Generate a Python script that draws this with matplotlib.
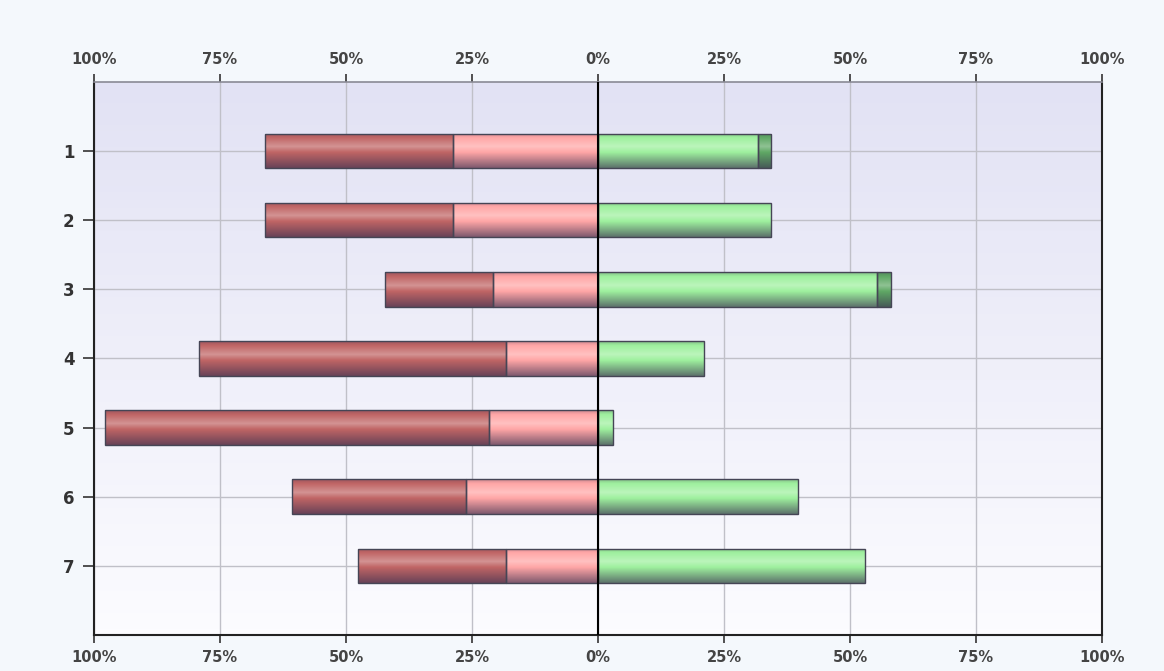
import numpy as np
import matplotlib
matplotlib.use('Agg')
from matplotlib import pyplot as plt
from matplotlib.colors import to_rgb
from matplotlib.patches import Rectangle

# per-row segment widths in percent
items = ['1', '2', '3', '4', '5', '6', '7']
strongly_disagree = [37.2, 37.2, 21.3, 60.9, 76.1, 34.6, 29.5]
disagree = [28.8, 28.8, 20.9, 18.2, 21.7, 26.1, 18.2]
agree = [31.7, 34.3, 55.4, 21.0, 2.9, 39.7, 52.9]
strongly_agree = [2.6, 0.0, 2.7, 0.0, 0.0, 0.0, 0.0]
tick_values = [-100, -75, -50, -25, 0, 25, 50, 75, 100]

DARK = np.array(to_rgb('#3a3050'))
WHITE = np.ones(3)


def mix(a, b, f):
    return a * (1 - f) + b * f


def glossy(base, n=64):
    # vertical shading: dark rim on top, highlight band, darker towards the bottom
    base = np.array(to_rgb(base))
    keys_t = [0.0, 0.12, 0.38, 0.55, 1.0]
    keys_c = [mix(base, DARK, 0.25), base, mix(base, WHITE, 0.3), base, mix(base, DARK, 0.65)]
    t = np.linspace(0, 1, n)
    col = np.stack([np.interp(t, keys_t, [c[i] for c in keys_c]) for i in range(3)], axis=-1)
    return col[:, None, :]


def draw_segment(ax, x0, x1, y, h, color):
    if x1 - x0 <= 0:
        return
    left, right = min(x0, x1), max(x0, x1)
    rect = Rectangle((left, y - h / 2), right - left, h, facecolor='none',
                     edgecolor='#454555', lw=1.0, zorder=4)
    ax.add_patch(rect)
    im = ax.imshow(glossy(color), extent=(left, right, y + h / 2, y - h / 2),
                   origin='upper', aspect='auto', interpolation='bilinear', zorder=3)
    im.set_clip_path(rect)


fig = plt.figure(figsize=(11.64, 6.71), dpi=100, facecolor='#f4f8fc')
ax = fig.add_axes([0.0808, 0.0537, 0.8659, 0.8244])

# plot area background gradient
bg = np.linspace(0, 1, 100)[:, None]
bg_rgb = mix(np.array(to_rgb('#e2e2f4')), np.array(to_rgb('#fcfcff')), bg)[:, None, :].repeat(2, axis=1)
ax.imshow(bg_rgb, extent=(0, 1, 0, 1), transform=ax.transAxes, aspect='auto',
          origin='upper', zorder=0)

h = 0.5
for i, name in enumerate(items):
    y = i + 1
    sd, d, a, sa = strongly_disagree[i], disagree[i], agree[i], strongly_agree[i]
    draw_segment(ax, -d, 0, y, h, '#ffa6a6')
    draw_segment(ax, -(d + sd), -d, y, h, '#c06565')
    draw_segment(ax, 0, a, y, h, '#9ef09e')
    draw_segment(ax, a, a + sa, y, h, '#5fa865')

ax.axvline(0, color='black', lw=1.5, zorder=5)

ax.set_xlim(-100, 100)
ax.set_ylim(8, 0)
ax.set_xticks(tick_values)
ax.set_xticklabels([f'{abs(v)}%' for v in tick_values])
ax.set_yticks(range(1, len(items) + 1))
ax.set_yticklabels(items)

ax.grid(True, color='#c0c0c8', lw=1.0, zorder=1)
ax.set_axisbelow(True)

ax.tick_params(axis='x', top=True, labeltop=True, bottom=True, labelbottom=True,
               direction='out', length=6, width=1.2, colors='#333333',
               labelsize=10.5, pad=5)
ax.tick_params(axis='y', direction='out', length=8, width=1.2, colors='#333333',
               labelsize=12, pad=6)
for lab in ax.get_xticklabels() + ax.get_yticklabels():
    lab.set_fontweight('bold')
for lab in ax.get_xticklabels():
    lab.set_color('#444444')

for side in ['left', 'bottom', 'right']:
    ax.spines[side].set_color('#222222')
    ax.spines[side].set_linewidth(1.5)
ax.spines['top'].set_color('#8a8a95')
ax.spines['top'].set_linewidth(1.2)

fig.savefig('out.png', dpi=100, facecolor=fig.get_facecolor())
